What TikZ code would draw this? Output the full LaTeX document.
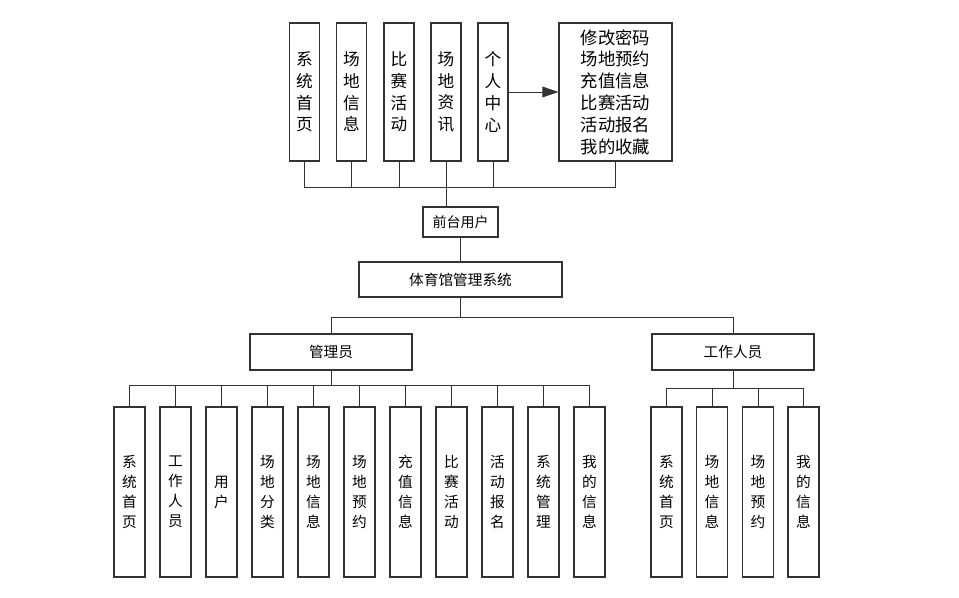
\documentclass[tikz,border=0pt]{standalone}
\usepackage{fontspec}
\setmainfont{Noto Sans CJK SC}
\usetikzlibrary{arrows.meta}

\begin{document}
\begin{tikzpicture}[x=0.75pt,y=-0.75pt,
	box/.style={draw=black!80,line width=0.8pt,inner sep=0pt,align=center},
	topbox/.style={box,minimum width=22.5pt,minimum height=103.5pt,font=\fontsize{12.5}{16.3}\selectfont},
	subbox/.style={box,minimum width=23.25pt,minimum height=127.5pt,font=\fontsize{11}{15}\selectfont},
	rolebox/.style={box,minimum height=27pt,font=\fontsize{11}{13}\selectfont},
	link/.style={draw=black!80,line width=0.7pt}]
	\useasboundingbox (0,0) rectangle (959,598);
	% front-end pages
	\node[topbox] (t1) at (304.5,92) {系\\统\\首\\页};
	\node[topbox] (t2) at (351.5,92) {场\\地\\信\\息};
	\node[topbox] (t3) at (399,92) {比\\赛\\活\\动};
	\node[topbox] (t4) at (446,92) {场\\地\\资\\讯};
	\node[topbox] (t5) at (493,92) {个\\人\\中\\心};
	\node[box,minimum width=84.75pt,minimum height=103.5pt,font=\fontsize{13}{16.35}\selectfont] (center) at (615.5,92) {修改密码\\场地预约\\充值信息\\比赛活动\\活动报名\\我的收藏};
	\draw[link,-{Triangle[length=12pt,width=8pt]}] (t5.east) -- (center.west);
	% users and system
	\node[box,minimum width=56.25pt,minimum height=22.5pt,font=\fontsize{10.5}{12}\selectfont] (front) at (460.5,222) {前台用户};
	\node[box,minimum width=152.25pt,minimum height=26.25pt,font=\fontsize{11}{13}\selectfont] (sys) at (460.5,279.5) {体育馆管理系统};
	\node[rolebox,minimum width=121.5pt] (adm) at (331,352) {管理员};
	\node[rolebox,minimum width=121.5pt] (staff) at (733,352) {工作人员};
	\coordinate (topbus) at (446,187);
	\foreach \n in {t1,t2,t3,t4,t5,center} \draw[link] (\n.south) |- (topbus);
	\draw[link] (topbus) -- (topbus |- front.north);
	\draw[link] (front) -- (sys);
	\coordinate (rolebus) at (460.5,317);
	\draw[link] (sys.south) -- (rolebus);
	\draw[link] (adm.north) |- (rolebus);
	\draw[link] (staff.north) |- (rolebus);
	% admin pages
	\coordinate (admbus) at (331,385);
	\draw[link] (adm.south) -- (admbus);
	\foreach \lbl [count=\i] in {系\\统\\首\\页,工\\作\\人\\员,用\\户,场\\地\\分\\类,场\\地\\信\\息,场\\地\\预\\约,充\\值\\信\\息,比\\赛\\活\\动,活\\动\\报\\名,系\\统\\管\\理,我\\的\\信\\息}{
		\node[subbox] (a\i) at ({129.5+46*(\i-1)},492) {\lbl};
		\draw[link] (a\i.north) |- (admbus);
	}
	% staff pages
	\coordinate (staffbus) at (733,388);
	\draw[link] (staff.south) -- (staffbus);
	\foreach \lbl/\x [count=\i] in {系\\统\\首\\页/666.5,场\\地\\信\\息/712,场\\地\\预\\约/758,我\\的\\信\\息/803.5}{
		\node[subbox] (s\i) at (\x,492) {\lbl};
		\draw[link] (s\i.north) |- (staffbus);
	}
\end{tikzpicture}
\end{document}
